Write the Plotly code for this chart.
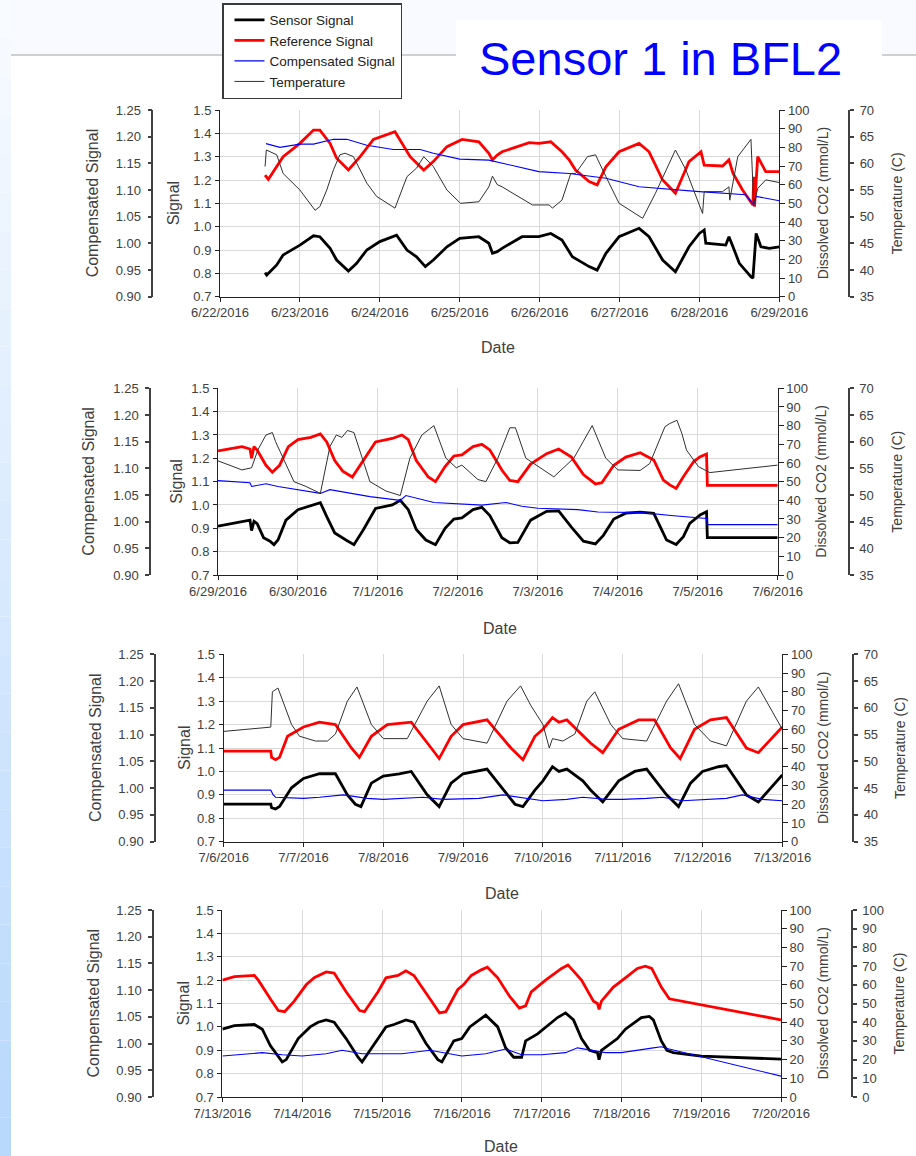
import pandas as pd
import plotly.graph_objects as go

W, H = 916, 1156
FONT = "Arial, 'Liberation Sans', sans-serif"
TXT = "#404040"
GRID = "#d9d9d9"

# ---------------- data: time in days from the first date of each panel ----------------
# Panel 1: 6/22/2016 - 6/29/2016
p1_start = "2016-06-22"
p1_sensor_t = [0.564, 0.585, 0.71, 0.79, 1.0, 1.17, 1.25, 1.378, 1.46, 1.607, 1.71, 1.837, 2.0, 2.21, 2.34,
               2.46, 2.57, 2.67, 2.84, 3.0, 3.24, 3.365, 3.41, 3.47, 3.53, 3.78, 3.99, 4.14, 4.28, 4.41, 4.62,
               4.72, 4.83, 4.995, 5.245, 5.37, 5.54, 5.70, 5.87, 6.0, 6.06, 6.08, 6.33, 6.37, 6.42, 6.50, 6.645,
               6.67, 6.71, 6.77, 6.875, 7.0]
p1_sensor = [0.803, 0.793, 0.836, 0.879, 0.921, 0.961, 0.957, 0.907, 0.857, 0.81, 0.843, 0.9, 0.936, 0.964, 0.9,
             0.871, 0.829, 0.857, 0.914, 0.95, 0.957, 0.929, 0.886, 0.893, 0.907, 0.957, 0.957, 0.971, 0.943, 0.871,
             0.829, 0.814, 0.886, 0.957, 0.993, 0.957, 0.857, 0.807, 0.914, 0.971, 0.986, 0.929, 0.921, 0.957, 0.914,
             0.843, 0.786, 0.779, 0.971, 0.914, 0.907, 0.914]
p1_ref_t = [0.564, 0.605, 0.79, 1.0, 1.17, 1.25, 1.378, 1.46, 1.607, 1.754, 1.92, 2.19, 2.38, 2.55, 2.67, 2.84,
            3.03, 3.24, 3.365, 3.41, 3.47, 3.53, 3.87, 3.99, 4.14, 4.28, 4.37, 4.45, 4.62, 4.72, 4.83, 4.995, 5.245,
            5.37, 5.54, 5.70, 5.87, 6.02, 6.06, 6.29, 6.37, 6.42, 6.54, 6.67, 6.68, 6.69, 6.73, 6.83, 7.0]
p1_ref = [1.221, 1.203, 1.3, 1.357, 1.414, 1.414, 1.357, 1.293, 1.243, 1.3, 1.374, 1.407, 1.3, 1.243, 1.279, 1.343,
          1.374, 1.364, 1.314, 1.286, 1.307, 1.321, 1.36, 1.357, 1.364, 1.321, 1.286, 1.243, 1.193, 1.179, 1.257,
          1.321, 1.357, 1.321, 1.2, 1.143, 1.279, 1.321, 1.264, 1.26, 1.286, 1.229, 1.157, 1.093, 1.214, 1.086, 1.3,
          1.236, 1.236]
p1_comp_t = [0.576, 0.75, 1.0, 1.17, 1.42, 1.587, 1.837, 2.17, 2.505, 2.67, 3.0, 3.365, 3.99, 4.37, 4.83, 5.0,
             5.245, 6.0, 6.58, 6.68, 6.71, 7.0]
p1_comp = [1.187, 1.180, 1.186, 1.186, 1.195, 1.195, 1.184, 1.176, 1.176, 1.169, 1.158, 1.156, 1.1345, 1.131,
           1.122, 1.116, 1.106, 1.097, 1.091, 1.072, 1.088, 1.080]
p1_temp_t = [0.564, 0.58, 0.71, 0.79, 1.0, 1.19, 1.25, 1.336, 1.42, 1.50, 1.566, 1.67, 1.837, 1.96, 2.19, 2.34,
             2.46, 2.55, 2.67, 2.84, 3.01, 3.24, 3.365, 3.41, 3.47, 3.53, 3.91, 4.12, 4.16, 4.28, 4.39, 4.45, 4.60,
             4.70, 4.83, 4.995, 5.29, 5.45, 5.70, 5.83, 6.04, 6.06, 6.29, 6.37, 6.38, 6.48, 6.645, 6.68, 6.73, 6.83,
             7.0]
p1_temp = [59.4, 62.5, 61.6, 58.1, 55.0, 51.2, 51.9, 55.0, 58.8, 61.6, 61.9, 61.25, 56.3, 53.8, 51.6, 57.5, 59.1,
           61.25, 59.4, 55.0, 52.5, 52.8, 55.6, 57.6, 56.0, 55.6, 52.2, 52.2, 51.6, 53.1, 58.1, 58.1, 61.25, 61.6,
           57.5, 52.5, 49.7, 54.4, 62.5, 58.8, 50.6, 54.7, 54.7, 55.6, 53.1, 61.25, 64.5, 52.2, 55.3, 56.9, 56.4]

# Panel 2: 6/29/2016 - 7/6/2016
p2_start = "2016-06-29"
p2_sensor_t = [0, 0.3, 0.40, 0.42, 0.45, 0.49, 0.57, 0.65, 0.70, 0.75, 0.85, 1.0, 1.2, 1.28, 1.36, 1.46, 1.6, 1.7,
               1.82, 1.97, 2.18, 2.28, 2.38, 2.48, 2.6, 2.72, 2.84, 2.95, 3.05, 3.19, 3.30, 3.40, 3.55, 3.65, 3.75,
               3.91, 4.11, 4.26, 4.42, 4.57, 4.72, 4.82, 4.95, 5.10, 5.28, 5.45, 5.53, 5.61, 5.73, 5.82, 5.90, 6.03,
               6.11, 6.12, 7.0]
p2_sensor = [0.909, 0.93, 0.935, 0.89, 0.93, 0.92, 0.86, 0.845, 0.83, 0.85, 0.935, 0.98, 1.0, 1.01, 0.95, 0.88,
             0.85, 0.83, 0.895, 0.985, 1.0, 1.02, 0.98, 0.895, 0.85, 0.83, 0.9, 0.94, 0.945, 0.98, 0.99, 0.955, 0.86,
             0.838, 0.84, 0.935, 0.973, 0.975, 0.905, 0.845, 0.833, 0.87, 0.94, 0.965, 0.969, 0.964, 0.907, 0.85,
             0.831, 0.864, 0.921, 0.957, 0.971, 0.86, 0.86]
p2_ref_t = [0, 0.3, 0.40, 0.42, 0.45, 0.49, 0.60, 0.68, 0.77, 0.88, 1.0, 1.16, 1.28, 1.36, 1.46, 1.56, 1.68, 1.82,
            1.97, 2.18, 2.30, 2.38, 2.48, 2.63, 2.72, 2.84, 2.95, 3.05, 3.19, 3.30, 3.40, 3.55, 3.65, 3.75, 3.91,
            4.11, 4.26, 4.42, 4.57, 4.72, 4.80, 4.95, 5.10, 5.28, 5.45, 5.57, 5.65, 5.73, 5.82, 5.95, 6.03, 6.11,
            6.12, 7.0]
p2_ref = [1.232, 1.25, 1.24, 1.20, 1.25, 1.235, 1.17, 1.14, 1.17, 1.25, 1.28, 1.29, 1.305, 1.27, 1.19, 1.145,
          1.12, 1.19, 1.27, 1.285, 1.30, 1.28, 1.19, 1.12, 1.10, 1.165, 1.21, 1.215, 1.25, 1.26, 1.236, 1.15,
          1.105, 1.10, 1.175, 1.22, 1.24, 1.205, 1.13, 1.09, 1.095, 1.17, 1.205, 1.224, 1.193, 1.107, 1.086,
          1.071, 1.121, 1.186, 1.207, 1.218, 1.084, 1.084]
p2_comp_t = [0, 0.3, 0.40, 0.42, 0.6, 0.75, 1.0, 1.28, 1.4, 1.6, 1.9, 2.28, 2.35, 2.7, 3.0, 3.3, 3.6, 3.8, 4.0,
             4.5, 4.75, 5.3, 5.7, 6.11, 6.12, 7.0]
p2_comp = [1.077, 1.075, 1.073, 1.066, 1.071, 1.066, 1.060, 1.053, 1.060, 1.055, 1.047, 1.040, 1.049, 1.036,
           1.033, 1.031, 1.036, 1.029, 1.025, 1.0225, 1.018, 1.017, 1.011, 1.006, 0.9945, 0.9945]
p2_temp_t = [0, 0.3, 0.42, 0.5, 0.6, 0.68, 0.72, 0.95, 1.1, 1.28, 1.4, 1.48, 1.55, 1.62, 1.7, 1.9, 2.1, 2.28, 2.4,
             2.55, 2.7, 2.85, 2.98, 3.05, 3.25, 3.35, 3.5, 3.65, 3.72, 3.85, 4.2, 4.45, 4.68, 4.85, 5.0, 5.28,
             5.40, 5.53, 5.59, 5.65, 5.74, 5.80, 5.86, 6.01, 6.15, 7.0]
p2_temp = [56.4, 54.7, 55.1, 58.5, 61.25, 61.7, 60.0, 52.5, 51.6, 50.3, 59.1, 61.25, 60.8, 62.1, 61.7, 52.5,
           50.75, 49.9, 56.9, 61.25, 63.0, 56.9, 55.1, 55.6, 52.9, 52.5, 56.9, 62.6, 62.6, 56.9, 53.4, 56.9, 63.0,
           56.9, 54.7, 54.6, 55.9, 60.6, 62.8, 63.4, 64.0, 61.6, 58.4, 55.3, 54.2, 55.6]

# Panel 3: 7/6/2016 - 7/13/2016
p3_start = "2016-07-06"
p3_sensor_t = [0, 0.59, 0.60, 0.65, 0.70, 0.85, 1.0, 1.2, 1.4, 1.55, 1.65, 1.72, 1.85, 2.0, 2.2, 2.35, 2.55, 2.7,
               2.85, 3.0, 3.3, 3.55, 3.65, 3.75, 3.9, 4.0, 4.12, 4.2, 4.3, 4.5, 4.6, 4.75, 4.95, 5.15, 5.3, 5.55,
               5.7, 5.85, 6.0, 6.2, 6.3, 6.55, 6.7, 7.0]
p3_sensor = [0.86, 0.86, 0.845, 0.84, 0.85, 0.93, 0.97, 0.99, 0.99, 0.90, 0.86, 0.85, 0.95, 0.98, 0.99, 1.0, 0.90,
             0.85, 0.95, 0.99, 1.01, 0.90, 0.86, 0.85, 0.92, 0.96, 1.02, 1.0, 1.01, 0.96, 0.92, 0.87, 0.96, 1.0,
             1.01, 0.90, 0.85, 0.95, 1.0, 1.02, 1.025, 0.90, 0.87, 0.985]
p3_ref_t = [0, 0.59, 0.60, 0.65, 0.70, 0.8, 1.0, 1.2, 1.4, 1.6, 1.7, 1.85, 2.05, 2.35, 2.6, 2.7, 2.85, 3.0, 3.3,
            3.6, 3.75, 3.9, 4.0, 4.12, 4.2, 4.3, 4.6, 4.75, 4.95, 5.2, 5.4, 5.6, 5.72, 5.9, 6.1, 6.3, 6.55, 6.7, 7.0]
p3_ref = [1.087, 1.087, 1.06, 1.05, 1.06, 1.15, 1.19, 1.21, 1.20, 1.10, 1.06, 1.15, 1.20, 1.21, 1.10, 1.055, 1.15,
          1.20, 1.22, 1.10, 1.05, 1.15, 1.18, 1.23, 1.21, 1.22, 1.12, 1.08, 1.18, 1.22, 1.22, 1.10, 1.055, 1.18,
          1.22, 1.23, 1.10, 1.08, 1.19]
p3_comp_t = [0, 0.59, 0.62, 0.65, 1.0, 1.2, 1.5, 1.8, 2.0, 2.5, 2.75, 3.2, 3.5, 3.8, 4.0, 4.3, 4.5, 4.8, 5.0, 5.3,
             5.5, 5.75, 6.0, 6.3, 6.5, 6.75, 7.0]
p3_comp = [0.99625, 0.99625, 0.9875, 0.983, 0.981, 0.983, 0.9875, 0.981, 0.979, 0.983, 0.979, 0.981, 0.9875,
           0.981, 0.9766, 0.979, 0.983, 0.979, 0.979, 0.981, 0.983, 0.9766, 0.979, 0.981, 0.9875, 0.979, 0.9766]
p3_temp_t = [0, 0.59, 0.61, 0.68, 0.85, 0.95, 1.15, 1.3, 1.4, 1.55, 1.67, 1.85, 2.0, 2.3, 2.55, 2.7, 2.85, 3.0,
             3.3, 3.55, 3.72, 3.85, 4.0, 4.08, 4.12, 4.25, 4.4, 4.5, 4.55, 4.65, 4.85, 5.0, 5.3, 5.55, 5.7, 5.9,
             6.1, 6.3, 6.55, 6.7, 7.0]
p3_temp = [55.6, 56.4, 63.0, 63.7, 56.9, 54.7, 53.8, 53.8, 55.1, 61.25, 63.9, 56.9, 54.25, 54.25, 61.25, 64.1,
           56.9, 54.25, 53.4, 61.25, 64.1, 60.4, 56.9, 52.5, 54.25, 53.8, 55.1, 59.1, 61.25, 63.0, 56.9, 54.25,
           53.8, 61.25, 64.5, 56.9, 53.8, 52.9, 61.25, 63.9, 56.0]

# Panel 4: 7/13/2016 - 7/20/2016 (no temperature record)
p4_start = "2016-07-13"
p4_sensor_t = [0, 0.15, 0.4, 0.5, 0.6, 0.7, 0.75, 0.8, 0.95, 1.1, 1.2, 1.3, 1.4, 1.55, 1.7, 1.75, 1.85, 2.0, 2.05,
               2.15, 2.3, 2.4, 2.55, 2.7, 2.75, 2.9, 3.0, 3.1, 3.25, 3.3, 3.45, 3.55, 3.65, 3.75, 3.8, 3.95, 4.2,
               4.3, 4.4, 4.5, 4.6, 4.7, 4.72, 4.75, 4.95, 5.05, 5.25, 5.35, 5.4, 5.5, 5.57, 5.65, 6.0, 6.5, 7.0]
p4_sensor = [0.99, 1.005, 1.01, 0.99, 0.92, 0.87, 0.85, 0.86, 0.95, 1.0, 1.02, 1.03, 1.02, 0.95, 0.87, 0.85, 0.90,
             0.98, 1.0, 1.01, 1.03, 1.02, 0.93, 0.86, 0.85, 0.94, 0.95, 1.0, 1.04, 1.05, 1.0, 0.91, 0.87, 0.87,
             0.94, 0.97, 1.04, 1.06, 1.03, 0.95, 0.90, 0.89, 0.86, 0.90, 0.95, 0.99, 1.04, 1.045, 1.03, 0.94, 0.90,
             0.89, 0.875, 0.87, 0.862]
p4_ref_t = [0, 0.15, 0.4, 0.45, 0.6, 0.7, 0.78, 0.9, 1.05, 1.15, 1.3, 1.4, 1.55, 1.72, 1.78, 1.95, 2.05, 2.2, 2.3,
            2.4, 2.6, 2.72, 2.8, 2.95, 3.02, 3.12, 3.25, 3.32, 3.45, 3.6, 3.72, 3.8, 3.87, 4.05, 4.25, 4.33, 4.5,
            4.6, 4.65, 4.7, 4.72, 4.75, 4.9, 5.05, 5.2, 5.3, 5.38, 5.5, 5.6, 7.0]
p4_ref = [1.20, 1.215, 1.22, 1.20, 1.12, 1.07, 1.065, 1.11, 1.18, 1.21, 1.235, 1.23, 1.15, 1.07, 1.065, 1.15, 1.21,
          1.22, 1.24, 1.22, 1.12, 1.06, 1.065, 1.16, 1.18, 1.22, 1.245, 1.255, 1.21, 1.13, 1.08, 1.09, 1.15, 1.20,
          1.25, 1.265, 1.20, 1.14, 1.11, 1.10, 1.075, 1.11, 1.17, 1.21, 1.25, 1.26, 1.25, 1.17, 1.12, 1.03]
p4_comp_t = [0, 0.5, 0.75, 1.0, 1.3, 1.5, 1.75, 2.25, 2.6, 3.0, 3.3, 3.55, 3.75, 4.0, 4.3, 4.45, 4.8, 5.0, 5.4,
             5.5, 5.6, 7.0]
p4_comp = [0.9766, 0.983, 0.979, 0.9766, 0.981, 0.9875, 0.981, 0.981, 0.9875, 0.9766, 0.981, 0.9897, 0.979, 0.979,
           0.983, 0.992, 0.983, 0.983, 0.992, 0.994, 0.9897, 0.939]

# ---------------- layout geometry (pixels) ----------------
panels = [
    dict(start=p1_start, sensor=(p1_sensor_t, p1_sensor), ref=(p1_ref_t, p1_ref), comp=(p1_comp_t, p1_comp),
         temp=(p1_temp_t, p1_temp), left=220, right=779.3, top=110, bottom=296.7, comp_x=152.3, temp_x=849.3,
         temp_range=[35, 70], temp_dtick=5, t_comp=92, t_sig=173, t_co2=823, t_temp=897, t_date=(498, 348)),
    dict(start=p2_start, sensor=(p2_sensor_t, p2_sensor), ref=(p2_ref_t, p2_ref), comp=(p2_comp_t, p2_comp),
         temp=(p2_temp_t, p2_temp), left=218, right=777.7, top=388.3, bottom=575, comp_x=150, temp_x=849,
         temp_range=[35, 70], temp_dtick=5, t_comp=89, t_sig=177, t_co2=821, t_temp=897, t_date=(500, 628)),
    dict(start=p3_start, sensor=(p3_sensor_t, p3_sensor), ref=(p3_ref_t, p3_ref), comp=(p3_comp_t, p3_comp),
         temp=(p3_temp_t, p3_temp), left=223.7, right=782.3, top=654.3, bottom=841.7, comp_x=155, temp_x=853.3,
         temp_range=[35, 70], temp_dtick=5, t_comp=95, t_sig=184, t_co2=823, t_temp=900, t_date=(502, 893)),
    dict(start=p4_start, sensor=(p4_sensor_t, p4_sensor), ref=(p4_ref_t, p4_ref), comp=(p4_comp_t, p4_comp),
         temp=None, left=222.4, right=781, top=910, bottom=1097, comp_x=153, temp_x=852,
         temp_range=[0, 100], temp_dtick=10, t_comp=93, t_sig=183, t_co2=822, t_temp=898, t_date=(501, 1146)),
]


def px(x):
    return x / W


def py(y):
    return 1 - y / H


def to_dates(start, days):
    return pd.Timestamp(start) + pd.to_timedelta(days, unit="D")


fig = go.Figure()
layout = {}
annotations = []
tick_font = dict(family=FONT, size=13, color=TXT)

for i, p in enumerate(panels):
    n = i + 1
    xa = f"xaxis{n}" if n > 1 else "xaxis"
    xref = f"x{n}" if n > 1 else "x"
    ids = [4 * i + k for k in (1, 2, 3, 4)]
    yn = [f"yaxis{k}" if k > 1 else "yaxis" for k in ids]
    yr = [f"y{k}" if k > 1 else "y" for k in ids]
    dom_y = [py(p["bottom"]), py(p["top"])]
    start = pd.Timestamp(p["start"])
    end = start + pd.Timedelta(days=7)

    layout[xa] = dict(domain=[px(p["left"]), px(p["right"])], anchor=yr[0], type="date",
                      range=[start, end], tick0=start, dtick=86400000, tickformat="%-m/%-d/%Y",
                      showgrid=True, gridcolor=GRID, gridwidth=1, showline=True, linecolor="#222",
                      linewidth=1, ticks="outside", ticklen=4, tickcolor="#222", automargin=False,
                      tickfont=dict(family=FONT, size=13, color=TXT), zeroline=False)
    # Signal axis (primary, left)
    layout[yn[0]] = dict(domain=dom_y, anchor=xref, range=[0.7, 1.5], dtick=0.1, tickformat=".1f",
                         showgrid=True, gridcolor=GRID, gridwidth=1, showline=True, linecolor="#222",
                         ticks="outside", ticklen=4, tickcolor="#222", tickfont=tick_font, zeroline=False,
                         ticklabelstandoff=1, automargin=False)
    # Compensated signal axis (free, far left)
    layout[yn[1]] = dict(overlaying=yr[0], anchor="free", position=px(p["comp_x"]), side="left",
                         range=[0.9, 1.25], dtick=0.05, tickformat=".2f", showgrid=False, showline=True,
                         linecolor="#404040", linewidth=1.5, ticks="outside", ticklen=4, tickcolor="#404040",
                         tickwidth=1.5, tickfont=tick_font, zeroline=False, ticklabelstandoff=4,
                         automargin=False)
    # Dissolved CO2 axis (right, on the plot edge)
    layout[yn[2]] = dict(overlaying=yr[0], anchor=xref, side="right", range=[0, 100], dtick=10,
                         showgrid=False, showline=True, linecolor="#222", ticks="outside", ticklen=5,
                         tickcolor="#222", tickfont=tick_font, zeroline=False, automargin=False)
    # Temperature axis (free, far right)
    layout[yn[3]] = dict(overlaying=yr[0], anchor="free", position=px(p["temp_x"]), side="right",
                         range=p["temp_range"], dtick=p["temp_dtick"], showgrid=False, showline=True,
                         linecolor="#404040", linewidth=1.5, ticks="outside", ticklen=4, tickcolor="#404040",
                         tickwidth=1.5, tickfont=tick_font, zeroline=False, ticklabelstandoff=3,
                         automargin=False)

    first = i == 0
    t, v = p["sensor"]
    fig.add_trace(go.Scatter(x=to_dates(p["start"], t), y=v, mode="lines", name="Sensor Signal",
                             line=dict(color="black", width=2.8), xaxis=xref, yaxis=yr[0],
                             showlegend=first, legendrank=1))
    t, v = p["ref"]
    fig.add_trace(go.Scatter(x=to_dates(p["start"], t), y=v, mode="lines", name="Reference Signal",
                             line=dict(color="#ff0000", width=2.8), xaxis=xref, yaxis=yr[0],
                             showlegend=first, legendrank=2))
    t, v = p["comp"]
    fig.add_trace(go.Scatter(x=to_dates(p["start"], t), y=v, mode="lines", name="Compensated Signal",
                             line=dict(color="#0000ff", width=1.1), xaxis=xref, yaxis=yr[1],
                             showlegend=first, legendrank=3))
    # the CO2 scale carries no series of its own; an empty trace keeps it attached to the subplot
    fig.add_trace(go.Scatter(x=[], y=[], mode="lines", xaxis=xref, yaxis=yr[2], showlegend=False,
                             hoverinfo="skip"))
    if p["temp"] is not None:
        t, v = p["temp"]
        fig.add_trace(go.Scatter(x=to_dates(p["start"], t), y=v, mode="lines", name="Temperature",
                                 line=dict(color="#303030", width=1), xaxis=xref, yaxis=yr[3],
                                 showlegend=first, legendrank=4))
    else:
        fig.add_trace(go.Scatter(x=[], y=[], mode="lines", xaxis=xref, yaxis=yr[3], showlegend=False,
                                 hoverinfo="skip"))

    mid = (p["top"] + p["bottom"]) / 2
    title_font_l = dict(family=FONT, size=16, color=TXT)
    title_font_r = dict(family=FONT, size=14, color=TXT)
    for text, x, f in (("Compensated Signal", p["t_comp"], title_font_l), ("Signal", p["t_sig"], title_font_l),
                       ("Dissolved CO2 (mmol/L)", p["t_co2"], title_font_r),
                       ("Temperature (C)", p["t_temp"], title_font_r)):
        annotations.append(dict(text=text, x=px(x), y=py(mid), xref="paper", yref="paper", textangle=-90,
                                showarrow=False, xanchor="center", yanchor="middle", font=f))
    dx, dy = p["t_date"]
    annotations.append(dict(text="Date", x=px(dx), y=py(dy), xref="paper", yref="paper", showarrow=False,
                            xanchor="center", yanchor="middle", font=dict(family=FONT, size=16, color=TXT)))

annotations.append(dict(text="Sensor 1 in BFL2", x=px(660), y=py(59), xref="paper", yref="paper",
                        showarrow=False, xanchor="center", yanchor="middle",
                        font=dict(family=FONT, size=47, color="#0000ff")))

# slide background: pale header band, blue side strip, divider rule, white title box
shapes = [dict(type="rect", xref="paper", yref="paper", x0=0, x1=1, y0=py(55), y1=1,
               fillcolor="#f8faff", line_width=0, layer="below")]
top_c, bot_c = (248, 251, 255), (184, 216, 252)
bands = 30
for k in range(bands):
    f = k / (bands - 1)
    c = tuple(round(top_c[j] + (bot_c[j] - top_c[j]) * f) for j in range(3))
    shapes.append(dict(type="rect", xref="paper", yref="paper", x0=0, x1=px(11),
                       y0=py(H * (k + 1) / bands), y1=py(H * k / bands),
                       fillcolor=f"rgb{c}", line_width=0, layer="below"))
shapes.append(dict(type="line", xref="paper", yref="paper", x0=px(11), x1=1, y0=py(55), y1=py(55),
                   line=dict(color="#c0c0c0", width=1.5), layer="below"))
shapes.append(dict(type="rect", xref="paper", yref="paper", x0=px(456), x1=px(882), y0=py(100), y1=py(20),
                   fillcolor="white", line_width=0, layer="below"))

fig.update_layout(
    template="none",
    width=W, height=H, autosize=False, margin=dict(l=0, r=0, t=0, b=0, pad=0),
    paper_bgcolor="white", plot_bgcolor="rgba(0,0,0,0)",
    font=dict(family=FONT, color=TXT),
    showlegend=True,
    legend=dict(x=px(222), y=py(3), xanchor="left", yanchor="top", bgcolor="white",
                bordercolor="#3a3a3a", borderwidth=1.5, font=dict(family=FONT, size=13.5, color="#222"),
                tracegroupgap=0, traceorder="normal", indentation=6),
    annotations=annotations, shapes=shapes,
    **layout,
)

fig.write_html("out.html")
